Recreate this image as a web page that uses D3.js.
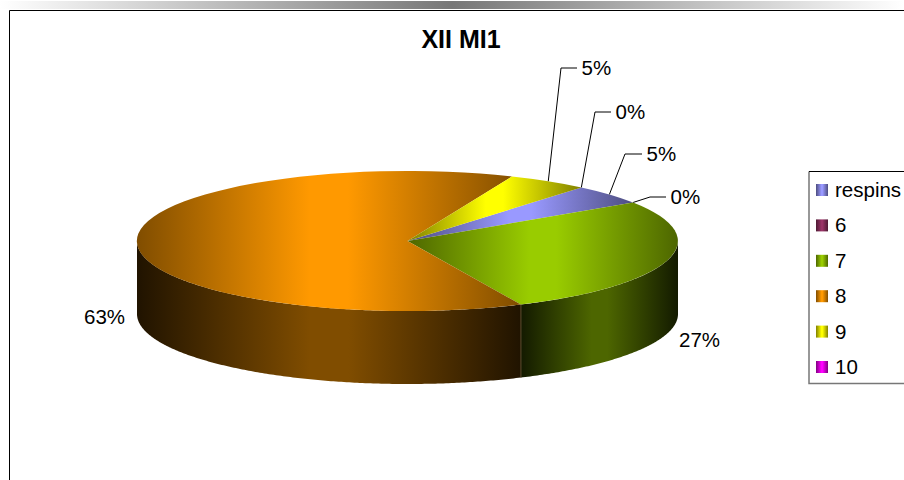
<!DOCTYPE html>
<html lang="en">
<head>
  <meta charset="utf-8" />
  <style>
    html, body { margin: 0; padding: 0; background: #fff; }
    svg { display: block; }
    text { font-family: "Liberation Sans", Arial, sans-serif; fill: #000; }
  </style>
</head>
<body>
<svg width="904" height="480"></svg>
<script src="https://d3js.org/d3.v7.min.js"></script>
<script>
var title = "XII MI1",
    categories = ["respins", "6", "7", "8", "9", "10"],
    percents = [4.6, 0, 27.4, 63.2, 4.8, 0],
    topColors = ["#9999ff", "#993366", "#99cc00", "#ff9900", "#ffff00", "#ff00ff"],
    edgeColors = ["#4d4d80", "#4d1a33", "#4d6600", "#804d00", "#808000", "#800080"],
    sideMid = ["#4d4d80", "#4d1a33", "#4d6600", "#804d00", "#808000", "#800080"],
    sideEdge = ["#131320", "#130d0d", "#131a00", "#201300", "#202000", "#200020"];

var width = 904,
    height = 480,
    cx = 407.5,
    cy = 241,
    rx = 270.5,
    ry = 70,
    depth = 73,
    startDeg = 40;

// elbow and label spot for each callout, in slice order
var callouts = {
  "respins": { elbow: [625, 154], end: [642, 154] },
  "6": { elbow: [650, 197], end: [666, 197] },
  "9": { elbow: [561, 68], end: [577, 68] },
  "10": { elbow: [595, 112], end: [611, 112] }
};
var plainLabels = {
  "7": [679, 339],
  "8": [84, 316]
};

var svg = d3.select("svg"),
    defs = svg.append("defs");

var banner = defs.append("linearGradient").attr("id", "banner");
banner.append("stop").attr("offset", 0).attr("stop-color", "#fff");
banner.append("stop").attr("offset", 0.5).attr("stop-color", "#777");
banner.append("stop").attr("offset", 1).attr("stop-color", "#fff");

function addGradient(id, c0, c1) {
  var g = defs.append("linearGradient").attr("id", id);
  g.append("stop").attr("offset", 0).attr("stop-color", c0);
  g.append("stop").attr("offset", 0.45).attr("stop-color", c1);
  g.append("stop").attr("offset", 0.55).attr("stop-color", c1);
  g.append("stop").attr("offset", 1).attr("stop-color", c0);
}
categories.forEach(function(c, i) {
  addGradient("top" + i, edgeColors[i], topColors[i]);
  addGradient("side" + i, sideEdge[i], sideMid[i]);
});

svg.append("rect").attr("y", 1).attr("width", width).attr("height", 8).attr("fill", "url(#banner)");

// chart frame, open on the right and at the bottom
svg.append("path")
  .attr("d", "M9.5,480V10.5H904")
  .attr("fill", "none")
  .attr("stroke", "#000")
  .attr("stroke-width", 1);

svg.append("text")
  .attr("x", 461)
  .attr("y", 48)
  .attr("text-anchor", "middle")
  .attr("font-size", 25)
  .attr("font-weight", "bold")
  .text(title);

var pie = d3.pie()
  .sort(null)
  .startAngle(startDeg * Math.PI / 180)
  .endAngle((startDeg + 360) * Math.PI / 180);

var arcs = pie(percents);

// pie angle (clockwise from 12 o'clock) to a point on the tilted rim
function rimX(a) { return cx + rx * Math.sin(a); }
function rimY(a) { return cy - ry * Math.cos(a); }

// front wall: only the part of the rim facing the viewer
var wall = d3.area()
  .x(function(a) { return rimX(a); })
  .y0(function(a) { return rimY(a); })
  .y1(function(a) { return rimY(a) + depth; });

var frontFrom = Math.PI / 2,
    frontTo = 3 * Math.PI / 2;

arcs.forEach(function(d, i) {
  [0, 2 * Math.PI].forEach(function(shift) {
    var a0 = Math.max(d.startAngle - shift, frontFrom),
        a1 = Math.min(d.endAngle - shift, frontTo);
    if (a1 <= a0) return;
    var steps = d3.range(a0, a1, 0.01).concat([a1]);
    svg.append("path")
      .attr("d", wall(steps))
      .attr("fill", "url(#side" + i + ")");
  });
});

// seam between the walls of slices 7 and 8
var seam = arcs[2].endAngle;
svg.append("line")
  .attr("x1", rimX(seam))
  .attr("x2", rimX(seam))
  .attr("y1", rimY(seam))
  .attr("y2", rimY(seam) + depth)
  .attr("stroke", "#5a4a2a")
  .attr("stroke-width", 1);

// top face: a unit arc squashed into the ellipse
var arc = d3.arc().innerRadius(0).outerRadius(1);
var topFace = svg.append("g")
  .attr("transform", "translate(" + cx + "," + cy + ") scale(" + rx + "," + ry + ")");

topFace.selectAll("path")
  .data(arcs)
  .join("path")
  .attr("d", arc)
  .attr("fill", function(d, i) { return "url(#top" + i + ")"; });

// callouts
arcs.forEach(function(d, i) {
  var name = categories[i],
      c = callouts[name];
  if (!c) return;
  var a = (d.startAngle + d.endAngle) / 2;
  svg.append("polyline")
    .attr("points", [[rimX(a), rimY(a)], c.elbow, c.end].join(" "))
    .attr("fill", "none")
    .attr("stroke", "#000")
    .attr("stroke-width", 1);
  svg.append("text")
    .attr("x", c.end[0] + 4.5)
    .attr("y", c.end[1] + 6.5)
    .attr("font-size", 20.5)
    .text(Math.round(percents[i]) + "%");
});

Object.keys(plainLabels).forEach(function(name) {
  var i = categories.indexOf(name);
  svg.append("text")
    .attr("x", plainLabels[name][0])
    .attr("y", plainLabels[name][1] + 7.5)
    .attr("font-size", 20.5)
    .text(Math.round(percents[i]) + "%");
});

// legend, cut by the right edge of the page
var legendRow = d3.scalePoint()
  .domain(categories)
  .range([190, 367]);

svg.append("path")
  .attr("d", "M904,383.5H809V171.5")
  .attr("fill", "none")
  .attr("stroke", "#777")
  .attr("stroke-width", 1.5);
svg.append("path")
  .attr("d", "M809,171.5H904")
  .attr("fill", "none")
  .attr("stroke", "#000")
  .attr("stroke-width", 1);

var legend = svg.selectAll("g.legend")
  .data(categories)
  .join("g")
  .attr("class", "legend")
  .attr("transform", function(d) { return "translate(0," + legendRow(d) + ")"; });

legend.append("rect")
  .attr("x", 816)
  .attr("y", -6)
  .attr("width", 12)
  .attr("height", 12)
  .attr("fill", function(d, i) { return "url(#top" + i + ")"; });

legend.append("text")
  .attr("x", 835)
  .attr("y", 7)
  .attr("font-size", 20.5)
  .text(function(d) { return d; });
</script>
</body>
</html>
